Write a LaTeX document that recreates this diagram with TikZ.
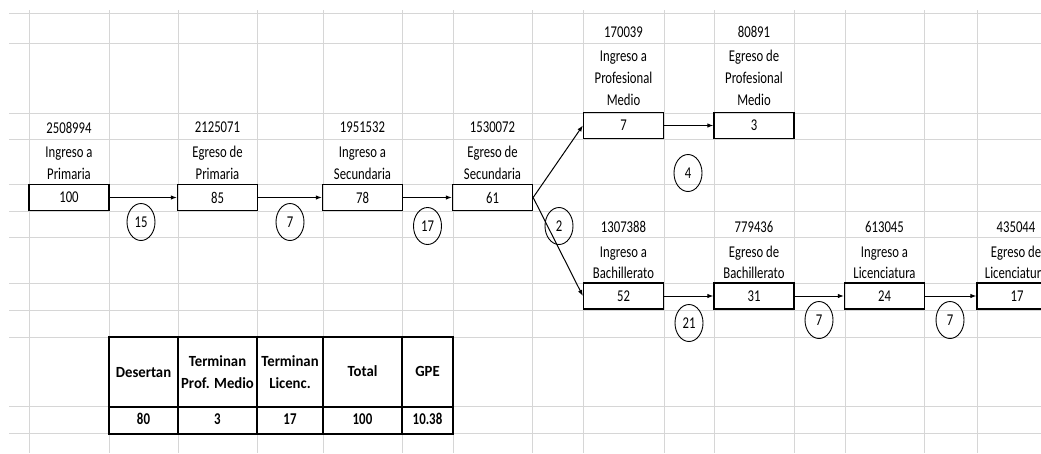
\documentclass[tikz,border=0pt]{standalone}
\usepackage{fontspec}
\setmainfont{Carlito}
\usetikzlibrary{shapes.geometric,arrows.meta}
\newcommand\sqz[1]{\scalebox{0.77}[1]{#1}}
\newcommand\hdr[1]{\scalebox{0.95}[1]{\bfseries #1}}
\newcommand\dat[1]{\scalebox{0.78}[1]{\bfseries #1}}
\tikzset{
  gridline/.style={draw=black!16, line width=1pt},
  valbox/.style={draw, line width=1.3pt, minimum width=80pt, minimum height=26pt, inner sep=0pt, font=\fontsize{16.5}{20}\selectfont},
  txt/.style={inner sep=0pt, font=\fontsize{16.5}{20}\selectfont},
  btxt/.style={inner sep=0pt, font=\fontsize{15.5}{19}\selectfont},
  dtxt/.style={inner sep=0pt, font=\fontsize{16.5}{20}\selectfont},
  bubble/.style={ellipse, draw, line width=0.9pt, minimum width=28pt, minimum height=37pt, inner sep=0pt, font=\fontsize{16.5}{20}\selectfont},
  flow/.style={-{Latex[length=6pt,width=4.5pt]}, line width=1pt},
  tcell/.style={draw, line width=1.6pt, inner sep=0pt},
}
\begin{document}
\begin{tikzpicture}[x=1pt,y=-1pt]
\clip (0,0) rectangle (1041,453);
\fill[white] (0,0) rectangle (1041,453);
% grid
\foreach \gy in {13,43,113,139,184,211,237,283,310,337,406,433}
  \draw[gridline] (9,\gy) -- (1041,\gy);
\foreach \gx in {29,109,178,257,323,402,453,532,583,664,714,794,845,924,977}
  \draw[gridline] (\gx,10) -- (\gx,453);

% labels main row
\foreach \nm/\lx/\num/\la/\lb in {a/69/2508994/Ingreso a/Primaria, b/217.5/2125071/Egreso de/Primaria, c/362.5/1951532/Ingreso a/Secundaria, d/492.5/1530072/Egreso de/Secundaria}{
  \node[txt] (num\nm) at (\lx,127.5) {\sqz{\num}};
  \node[txt,anchor=base] (la\nm) at (\lx,157.5) {\sqz{\la}};
  \node[txt,anchor=base] (lb\nm) at (\lx,179) {\sqz{\lb}};
}
% labels lower row
\foreach \nm/\lx/\num/\la/\lb in {g/623.5/1307388/Ingreso a/Bachillerato, h/754/779436/Egreso de/Bachillerato, i/884.5/613045/Ingreso a/Licenciatura, j/1016/435044/Egreso de/Licenciatura}{
  \node[txt] (num\nm) at (\lx,227) {\sqz{\num}};
  \node[txt,anchor=base] (la\nm) at (\lx,257) {\sqz{\la}};
  \node[txt,anchor=base] (lb\nm) at (\lx,278.5) {\sqz{\lb}};
}
% labels upper row
\foreach \nm/\lx/\num/\la in {e/623.5/170039/Ingreso a, f/754/80891/Egreso de}{
  \node[txt] (num\nm) at (\lx,32) {\sqz{\num}};
  \node[txt,anchor=base] (la\nm) at (\lx,61.5) {\sqz{\la}};
  \node[txt,anchor=base] (lb\nm) at (\lx,83.5) {\sqz{Profesional}};
  \node[txt,anchor=base] (lc\nm) at (\lx,105.5) {\sqz{Medio}};
}

% boxes
\node[valbox] (b100) at (69,197.5) {\sqz{100}};
\node[valbox] (b85) at (217.5,197.5) {\sqz{85}};
\node[valbox] (b78) at (362.5,197.5) {\sqz{78}};
\node[valbox] (b61) at (492.5,197.5) {\sqz{61}};
\node[valbox] (b7) at (623.5,125.5) {\sqz{7}};
\node[valbox] (b3) at (754,125.5) {\sqz{3}};
\node[valbox] (b52) at (623.5,296) {\sqz{52}};
\node[valbox] (b31) at (754,296) {\sqz{31}};
\node[valbox] (b24) at (884.5,296) {\sqz{24}};
\node[valbox] (b17) at (1017,296) {\sqz{17}};

% connectors
\draw[flow] (b100.east) -- (b85.west);
\draw[flow] (b85.east) -- (b78.west);
\draw[flow] (b78.east) -- (b61.west);
\draw[flow] (b61.east) -- (b7.west);
\draw[flow] (b61.east) -- (b52.west);
\draw[flow] (b7.east) -- (b3.west);
\draw[flow] (b52.east) -- (b31.west);
\draw[flow] (b31.east) -- (b24.west);
\draw[flow] (b24.east) -- (b17.west);

% bubbles
\node[bubble] (c15) at (141,222) {\sqz{15}};
\node[bubble] (c7a) at (290,222) {\sqz{7}};
\node[bubble] (c17) at (427.5,226) {\sqz{17}};
\node[bubble] (c2) at (559,226) {\sqz{2}};
\node[bubble] (c4) at (688,173) {\sqz{4}};
\node[bubble] (c21) at (689,323) {\sqz{21}};
\node[bubble] (c7b) at (819,320) {\sqz{7}};
\node[bubble] (c7c) at (950,320) {\sqz{7}};

% table
\node[tcell, minimum width=69pt, minimum height=70pt] (h1) at (143.5,372) {};
\node[tcell, minimum width=79pt, minimum height=70pt] (h2) at (217.5,372) {};
\node[tcell, minimum width=66pt, minimum height=70pt] (h3) at (290,372) {};
\node[tcell, minimum width=79pt, minimum height=70pt] (h4) at (362.5,372) {};
\node[tcell, minimum width=51pt, minimum height=70pt] (h5) at (427.5,372) {};
\node[tcell, minimum width=69pt, minimum height=27pt] (d1) at (143.5,420.5) {};
\node[tcell, minimum width=79pt, minimum height=27pt] (d2) at (217.5,420.5) {};
\node[tcell, minimum width=66pt, minimum height=27pt] (d3) at (290,420.5) {};
\node[tcell, minimum width=79pt, minimum height=27pt] (d4) at (362.5,420.5) {};
\node[tcell, minimum width=51pt, minimum height=27pt] (d5) at (427.5,420.5) {};

\node[btxt,anchor=base] (t1) at (143.5,377) {\hdr{Desertan}};
\node[btxt,anchor=base] (t2a) at (217.5,366) {\hdr{Terminan}};
\node[btxt,anchor=base] (t2b) at (217.5,388) {\hdr{Prof. Medio}};
\node[btxt,anchor=base] (t3a) at (290,366) {\hdr{Terminan}};
\node[btxt,anchor=base] (t3b) at (290,388) {\hdr{Licenc.}};
\node[btxt,anchor=base] (t4) at (362.5,376) {\hdr{Total}};
\node[btxt,anchor=base] (t5) at (427.5,376) {\hdr{GPE}};

\node[dtxt,anchor=base] (v1) at (143.5,424.5) {\dat{80}};
\node[dtxt,anchor=base] (v2) at (217.5,424.5) {\dat{3}};
\node[dtxt,anchor=base] (v3) at (290,424.5) {\dat{17}};
\node[dtxt,anchor=base] (v4) at (362.5,424.5) {\dat{100}};
\node[dtxt,anchor=base] (v5) at (427.5,424.5) {\dat{10.38}};
\end{tikzpicture}
\end{document}
